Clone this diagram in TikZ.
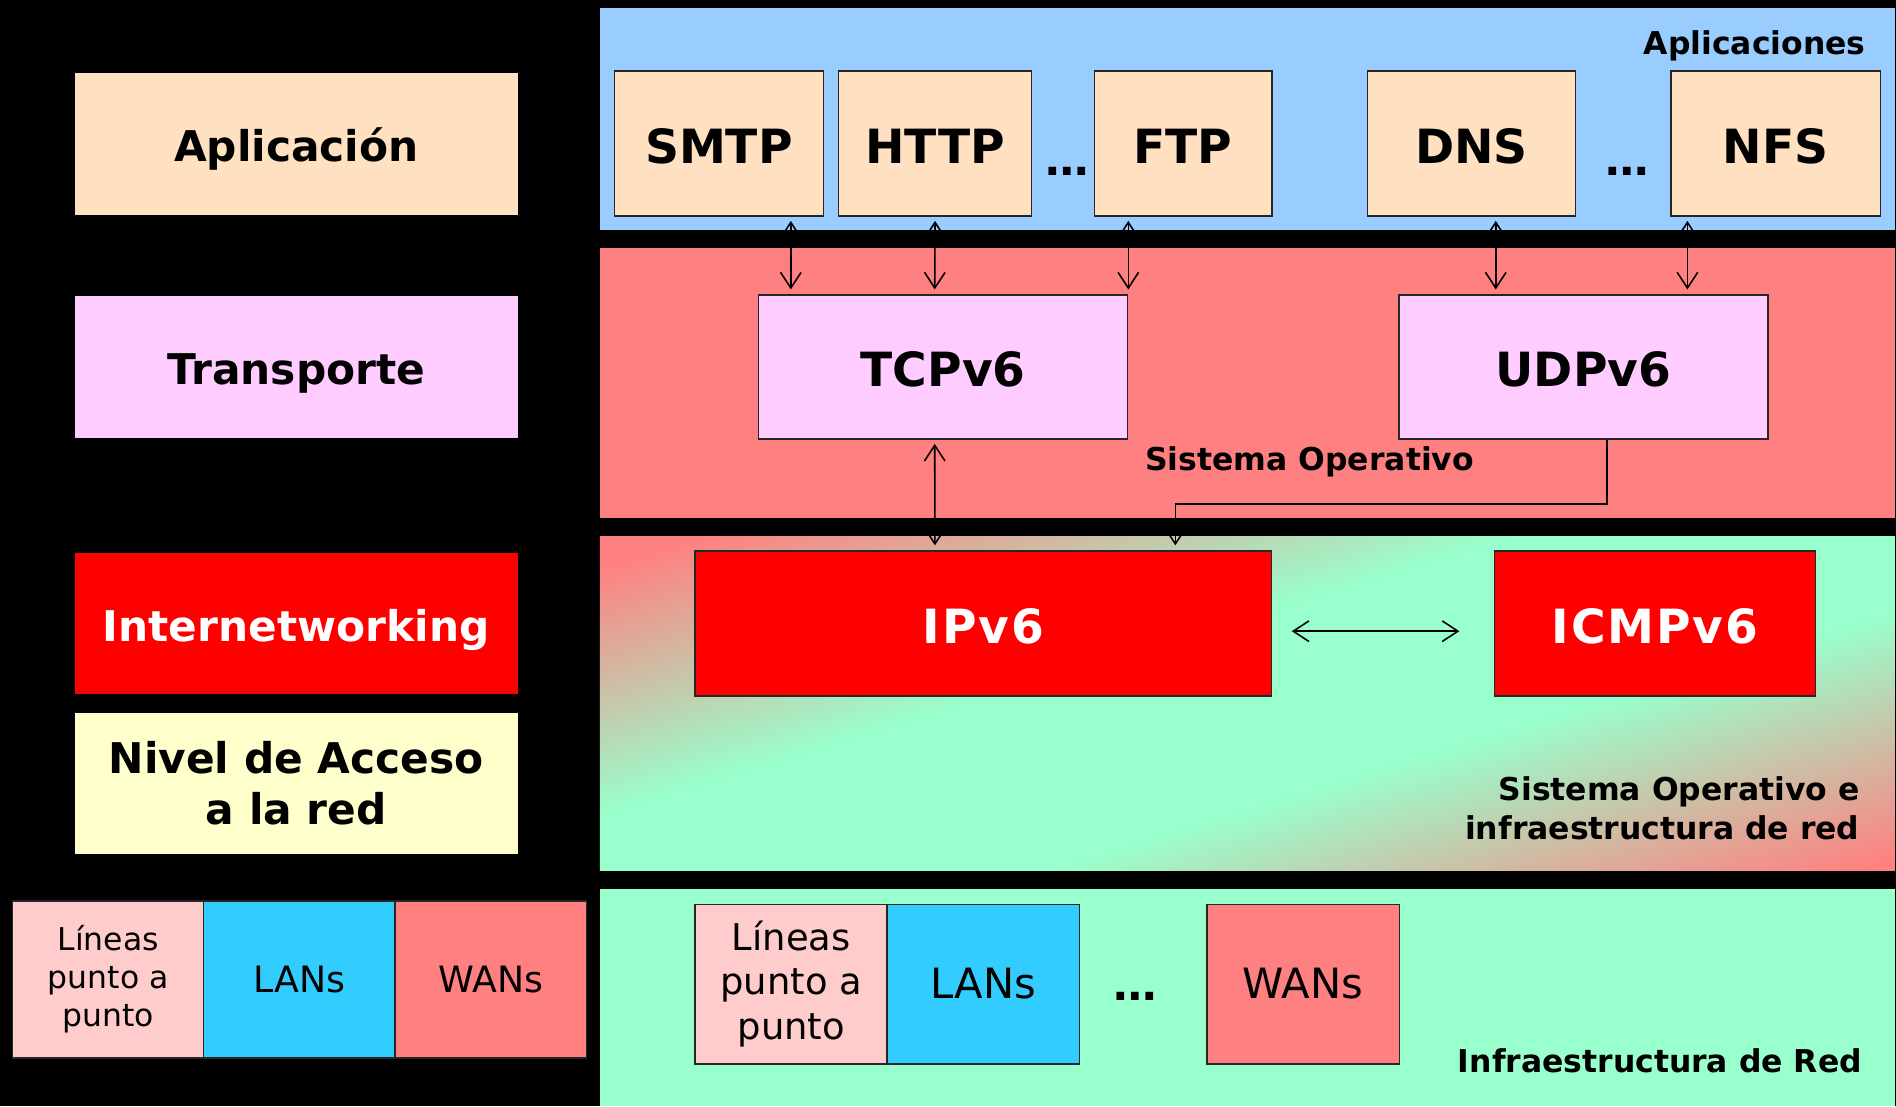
\documentclass[tikz,border=0pt]{standalone}
\usepackage{fontspec}
\setmainfont{DejaVu Sans}
\usetikzlibrary{arrows.meta}

\definecolor{peach}{RGB}{255,224,192}
\definecolor{lilac}{RGB}{255,204,255}
\definecolor{cream}{RGB}{255,255,204}
\definecolor{rose}{RGB}{255,204,204}
\definecolor{lanblue}{RGB}{51,204,255}
\definecolor{salmon}{RGB}{255,128,128}
\definecolor{sky}{RGB}{153,204,255}
\definecolor{mint}{RGB}{153,255,204}

\pgfdeclareverticalshading{diagred}{100bp}{color(0bp)=(salmon); color(30.5bp)=(salmon); color(44.6bp)=(mint); color(55.4bp)=(mint); color(69.5bp)=(salmon); color(100bp)=(salmon)}

\tikzset{
  layer/.style={rectangle, minimum width=366pt, minimum height=117pt, inner sep=0pt, align=center, font=\fontsize{35}{42}\selectfont\bfseries},
  layerone/.style={layer, text height=29.4pt, text depth=0pt},
  proto/.style={rectangle, draw=black!85, line width=1.2pt, minimum height=120pt, inner sep=0pt, text height=32.8pt, text depth=0pt, font=\fontsize{39}{46}\selectfont\bfseries},
  hotproto/.style={proto, fill=red, text=white, font=\fontsize{39}{46}\selectfont\bfseries\addfontfeature{LetterSpace=4}},
  netleft/.style={rectangle, draw=black!85, line width=1.2pt, minimum width=158pt, minimum height=130pt, inner sep=0pt, align=center, font=\fontsize{26}{31.5}\selectfont},
  netright/.style={rectangle, draw=black!85, line width=1.2pt, minimum width=159pt, minimum height=132pt, inner sep=0pt, align=center, font=\fontsize{30.5}{36.5}\selectfont},
  paneltag/.style={inner sep=0pt, font=\fontsize{26}{32}\selectfont\bfseries},
  ellip/.style={inner sep=0pt, font=\fontsize{36}{36}\selectfont\bfseries},
  link/.style={line width=1.3pt, shorten <=3.5pt, shorten >=4pt},
  >={Straight Barb[length=13pt,width=17pt]}
}

\begin{document}
\begin{tikzpicture}[x=1pt,y=-1pt]
    \fill[black] (0,0) rectangle (1568,915);
    \useasboundingbox (0,0) rectangle (1568,915);

    % bandas de la derecha
    \fill[sky] (496,7) rectangle (1567,190);
    \fill[salmon] (496,205) rectangle (1567,428.5);
    \begin{scope}
        \clip (496,444) rectangle (1567,720);
        \shade[shading=diagred, transform canvas={rotate around={17:(1031.5,590)}}] (231.5,240) rectangle (1831.5,940);
    \end{scope}
    \fill[mint] (496,735) rectangle (1567,915);

    \node[paneltag, anchor=base east] (aplics) at (1543,45) {Aplicaciones};
    \node[paneltag, anchor=base west] (sisop) at (947,389.5) {Sistema Operativo};
    \node[paneltag, anchor=base east, align=right] (soinfra) at (1538,694) {Sistema Operativo e\\infraestructura de red};
    \node[paneltag, anchor=base east] (infra) at (1540,887) {Infraestructura de Red};

    % niveles
    \node[layerone, fill=peach] (aplic) at (245,119) {Aplicación};
    \node[layerone, fill=lilac] (transp) at (245,303.5) {Transporte};
    \node[layerone, fill=red, text=white] (inet) at (245,515.5) {Internetworking};
    \node[layer, fill=cream] (nivel) at (245,648) {Nivel de Acceso\\a la red};

    \node[netleft, fill=rose] (lin1) at (89.5,810) {Líneas\\punto a\\punto};
    \node[netleft, fill=lanblue, font=\fontsize{30}{34}\selectfont] (lan1) at (247.5,810) {LANs};
    \node[netleft, fill=salmon, font=\fontsize{30}{34}\selectfont] (wan1) at (406,810) {WANs};

    % aplicaciones
    \node[proto, fill=peach, minimum width=173pt] (smtp) at (594.5,118.6) {SMTP};
    \node[proto, fill=peach, minimum width=159.4pt] (http) at (773.3,118.6) {HTTP};
    \node[ellip] (dots1) at (883,142) {…};
    \node[proto, fill=peach, minimum width=146.7pt] (ftp) at (978.4,118.6) {FTP};
    \node[proto, fill=peach, minimum width=172pt] (dns) at (1217,118.6) {DNS};
    \node[ellip] (dots2) at (1346,142) {…};
    \node[proto, fill=peach, minimum width=173pt] (nfs) at (1468.5,118.6) {NFS};

    % transporte e internetworking
    \node[proto, fill=lilac, minimum width=305pt, minimum height=119pt] (tcp) at (780,303.5) {TCPv6};
    \node[proto, fill=lilac, minimum width=305pt, minimum height=119pt] (udp) at (1309.5,303.5) {UDPv6};
    \node[hotproto, minimum width=477pt] (ipv6) at (813.2,515.6) {IPv6};
    \node[hotproto, minimum width=265.6pt] (icmp) at (1368.8,515.6) {ICMPv6};

    % redes
    \node[netright, fill=rose] (lin2) at (654.3,813.8) {Líneas\\punto a\\punto};
    \node[netright, fill=lanblue, font=\fontsize{34.5}{40}\selectfont] (lan2) at (813.2,813.8) {LANs};
    \node[ellip] (dots3) at (939,823.6) {…};
    \node[netright, fill=salmon, font=\fontsize{34.5}{40}\selectfont] (wan2) at (1077.7,813.8) {WANs};

    \path[link,<->] ([xshift=59.5pt]smtp.south) edge ([xshift=-126pt]tcp.north);
    \path[link,<->] (http.south) edge ([xshift=-7pt]tcp.north);
    \path[link,<->] (ftp.south -| tcp.north east) edge (tcp.north east);
    \path[link,<->] ([xshift=20pt]dns.south) edge ([xshift=-72.5pt]udp.north);
    \path[link,<->] ([xshift=-73pt]nfs.south) edge ([xshift=86pt]udp.north);
    \path[link,<->] ([xshift=-7pt]tcp.south) edge ([xshift=-40pt]ipv6.north);
    \draw[link,->,shorten <=0pt] ([xshift=19.5pt]udp.south) -- ++(0,53) -| ([xshift=158.8pt]ipv6.north);
    \path[link,<->,shorten <=16pt,shorten >=28.5pt] ([yshift=-6.4pt]ipv6.east) edge ([yshift=-6.4pt]icmp.west);
\end{tikzpicture}
\end{document}
